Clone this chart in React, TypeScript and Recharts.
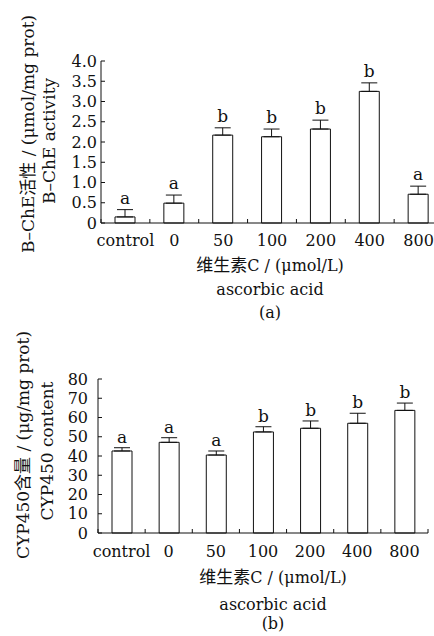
import React from 'react';
import { BarChart, Bar, XAxis, YAxis, ErrorBar, LabelList, Label } from 'recharts';

const categories = ['control', '0', '50', '100', '200', '400', '800'];

const cheValues = [0.15, 0.49, 2.17, 2.13, 2.32, 3.25, 0.71];
const cheErrors = [0.18, 0.2, 0.18, 0.19, 0.22, 0.21, 0.2];
const cheLetters = ['a', 'a', 'b', 'b', 'b', 'b', 'a'];
const cheTicks = [0, 0.5, 1, 1.5, 2, 2.5, 3, 3.5, 4];

const cypValues = [42.6, 47.1, 40.5, 52.5, 54.4, 57.0, 63.7];
const cypErrors = [1.7, 2.4, 2.1, 2.7, 3.8, 5.2, 3.8];
const cypLetters = ['a', 'a', 'a', 'b', 'b', 'b', 'b'];
const cypTicks = [0, 10, 20, 30, 40, 50, 60, 70, 80];

const LATIN = "'DejaVu Serif', serif";
const CJK = "'Noto Sans CJK SC', sans-serif";
const INK = '#111';

const buildData = (values: number[], errors: number[]) =>
  categories.map((c, i) => ({ cat: c, value: values[i], err: [0, errors[i]], idx: i }));

const cheData = buildData(cheValues, cheErrors);
const cypData = buildData(cypValues, cypErrors);

const makeLetter = (values: number[], errors: number[], letters: string[], gap: number) => (props: any) => {
  const vb = props.viewBox || props;
  const x = Number(vb.x);
  const y = Number(vb.y);
  const w = Number(vb.width);
  const h = Number(vb.height);
  const i = Number(props.value);
  const errPx = (errors[i] * h) / values[i];
  return (
    <text x={x + w / 2} y={y - errPx - gap} textAnchor="middle" fontFamily={LATIN} fontSize={17} fill={INK}>
      {letters[i]}
    </text>
  );
};

const makeXTick = (band: number, labelDy: number) => (props: any) => {
  const { x, y, payload } = props;
  const index = props.index ?? payload.index;
  const left = x - band / 2;
  return (
    <g>
      <line x1={left} x2={left} y1={y} y2={y - 4} stroke={INK} strokeWidth={1} />
      {index === categories.length - 1 && (
        <line x1={x + band / 2} x2={x + band / 2} y1={y} y2={y - 4} stroke={INK} strokeWidth={1} />
      )}
      <text x={x} y={y + labelDy} textAnchor="middle" fontFamily={LATIN} fontSize={16} fill={INK}>
        {payload.value}
      </text>
    </g>
  );
};

const makeXTitle = (cx: number, d1: number, d2: number, d3: number, tag: string) => (props: any) => {
  const vb = props.viewBox || {};
  const y0 = Number(vb.y);
  return (
    <g fill={INK}>
      <text x={cx} y={y0 + d1} textAnchor="middle" fontFamily={LATIN} fontSize={16}>
        <tspan fontFamily={CJK} fontSize={17}>维生素</tspan>
        <tspan>C / (μmol/L)</tspan>
      </text>
      <text x={cx} y={y0 + d2} textAnchor="middle" fontFamily={LATIN} fontSize={16}>
        ascorbic acid
      </text>
      <text x={cx} y={y0 + d3} textAnchor="middle" fontFamily={LATIN} fontSize={16}>
        {tag}
      </text>
    </g>
  );
};

const makeYTitle = (
  b1: number, c1: number, pre1: string, cjk1: string, post1: string,
  b2: number, c2: number, line2: string
) => () => (
  <g fill={INK}>
    <text x={b1} y={c1} transform={`rotate(-90 ${b1} ${c1})`} textAnchor="middle" fontFamily={LATIN} fontSize={17}>
      <tspan>{pre1}</tspan>
      <tspan fontFamily={CJK} fontSize={17}>{cjk1}</tspan>
      <tspan>{post1}</tspan>
    </text>
    <text x={b2} y={c2} transform={`rotate(-90 ${b2} ${c2})`} textAnchor="middle" fontFamily={LATIN} fontSize={17}>
      {line2}
    </text>
  </g>
);

const tickStyle = { fontFamily: LATIN, fontSize: 16, fill: INK };

const ChartA = () => {
  const width = 450;
  const marginRight = 7;
  const yWidth = 101;
  const band = (width - yWidth - marginRight) / categories.length;
  return (
    <BarChart width={width} height={330} data={cheData} margin={{ top: 61, right: marginRight, bottom: 0, left: 0 }} barSize={20}>
      <YAxis
        type="number"
        domain={[0, 4]}
        ticks={cheTicks}
        interval={0}
        width={yWidth}
        tickSize={-4}
        tickMargin={8}
        tickFormatter={(v: number) => (v === 0 ? '0' : v.toFixed(1))}
        tick={tickStyle}
        axisLine={{ stroke: INK, strokeWidth: 1 }}
        tickLine={{ stroke: INK, strokeWidth: 1 }}
      >
        <Label
          content={makeYTitle(34, 134, 'B–ChE', '活性', ' / (μmol/mg prot)', 55, 141, 'B–ChE activity')}
        />
      </YAxis>
      <XAxis
        dataKey="cat"
        type="category"
        height={107}
        interval={0}
        tickSize={0}
        tickMargin={0}
        tickLine={false}
        axisLine={{ stroke: INK, strokeWidth: 1 }}
        tick={makeXTick(band, 23)}
      >
        <Label content={makeXTitle(270, 48, 72, 95, '(a)')} />
      </XAxis>
      <Bar dataKey="value" fill="#fff" stroke={INK} strokeWidth={1} isAnimationActive={false}>
        <ErrorBar dataKey="err" width={8} stroke={INK} strokeWidth={1} />
        <LabelList dataKey="idx" content={makeLetter(cheValues, cheErrors, cheLetters, 6)} />
      </Bar>
    </BarChart>
  );
};

const ChartB = () => {
  const width = 434;
  const marginRight = 6;
  const yWidth = 98;
  const band = (width - yWidth - marginRight) / categories.length;
  return (
    <BarChart width={width} height={306} data={cypData} margin={{ top: 49, right: marginRight, bottom: 0, left: 0 }} barSize={20}>
      <YAxis
        type="number"
        domain={[0, 80]}
        ticks={cypTicks}
        interval={0}
        width={yWidth}
        tickSize={-4}
        tickMargin={14}
        tick={tickStyle}
        axisLine={{ stroke: INK, strokeWidth: 1 }}
        tickLine={{ stroke: INK, strokeWidth: 1 }}
      >
        <Label
          content={makeYTitle(29, 115, 'CYP450', '含量', ' / (μg/mg prot)', 53, 121, 'CYP450 content')}
        />
      </YAxis>
      <XAxis
        dataKey="cat"
        type="category"
        height={103}
        interval={0}
        tickSize={0}
        tickMargin={0}
        tickLine={false}
        axisLine={{ stroke: INK, strokeWidth: 1 }}
        tick={makeXTick(band, 24)}
      >
        <Label content={makeXTitle(273, 50, 77, 96, '(b)')} />
      </XAxis>
      <Bar dataKey="value" fill="#fff" stroke={INK} strokeWidth={1} isAnimationActive={false}>
        <ErrorBar dataKey="err" width={8} stroke={INK} strokeWidth={1} />
        <LabelList dataKey="idx" content={makeLetter(cypValues, cypErrors, cypLetters, 5)} />
      </Bar>
    </BarChart>
  );
};

export default function App() {
  return (
    <div style={{ position: 'absolute', left: 0, top: 0, width: 434, height: 636, overflow: 'hidden', background: '#fff' }}>
      <div style={{ position: 'absolute', left: 0, top: 0 }}>
        <ChartA />
      </div>
      <div style={{ position: 'absolute', left: 0, top: 330 }}>
        <ChartB />
      </div>
    </div>
  );
}
